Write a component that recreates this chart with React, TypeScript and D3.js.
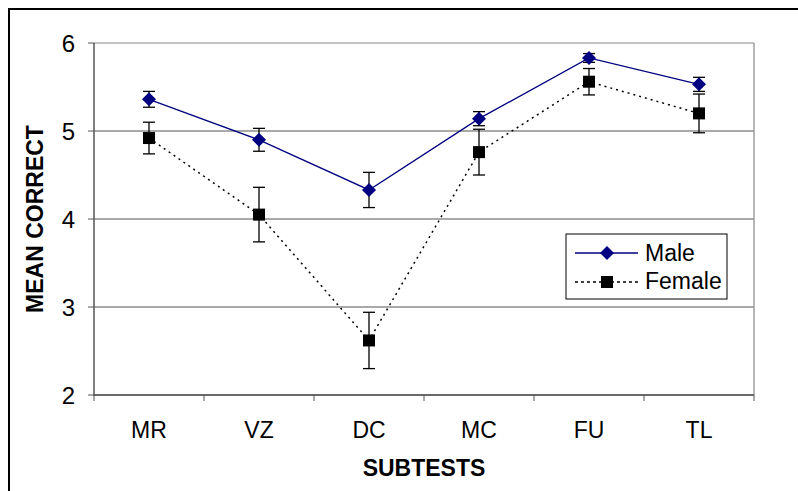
import React from 'react';
import * as d3 from 'd3';

const categories = ['MR', 'VZ', 'DC', 'MC', 'FU', 'TL'];
const maleMeans = [5.36, 4.9, 4.33, 5.14, 5.83, 5.53];
const maleErr = [0.09, 0.13, 0.2, 0.08, 0.05, 0.08];
const femaleMeans = [4.92, 4.05, 2.62, 4.76, 5.56, 5.2];
const femaleErr = [0.18, 0.31, 0.32, 0.26, 0.15, 0.22];
const yTicks = [2, 3, 4, 5, 6];

const width = 798;
const height = 491;
const marginLeft = 94;
const marginRight = 44;
const marginTop = 43;
const marginBottom = 96;
const font = 'Liberation Sans, Arial, sans-serif';

const Marker = ({ kind, x, y }: { kind: string; x: number; y: number }) =>
  kind === 'diamond' ? (
    <path d={`M${x},${y - 7}L${x + 7},${y}L${x},${y + 7}L${x - 7},${y}Z`} fill="#000080" />
  ) : (
    <rect x={x - 6} y={y - 6} width={12} height={12} fill="#000" />
  );

const App = () => {
  const x = d3.scaleBand().domain(categories).range([marginLeft, width - marginRight]);
  const y = d3.scaleLinear().domain([2, 6]).range([height - marginBottom, marginTop]);
  const cx = (c: string) => (x(c) as number) + x.bandwidth() / 2;
  const line = d3.line<number>().x((d, i) => cx(categories[i])).y(d => y(d));

  const series = [
    { name: 'Male', means: maleMeans, err: maleErr, color: '#000080', dash: undefined, kind: 'diamond' },
    { name: 'Female', means: femaleMeans, err: femaleErr, color: '#000', dash: '2,4', kind: 'square' },
  ];

  const left = marginLeft;
  const right = width - marginRight;
  const bottom = height - marginBottom;

  return (
    <svg width={width} height={height} style={{ position: 'absolute', left: 0, top: 0 }}>
      <rect x={0} y={0} width={width} height={height} fill="#fff" />
      <rect x={9} y={9} width={width + 10} height={height + 10} fill="none" stroke="#000" strokeWidth={2} />
      {yTicks.map(t => (
        <g key={t}>
          <line x1={left} x2={right} y1={y(t)} y2={y(t)} stroke={t === 6 ? '#888' : '#555'} strokeWidth={1.2} />
          <line x1={left - 6} x2={left} y1={y(t)} y2={y(t)} stroke="#555" />
          <text x={left - 19} y={y(t)} dy="0.36em" textAnchor="end" fontFamily={font} fontSize={24}>{t}</text>
        </g>
      ))}
      <line x1={right} x2={right} y1={marginTop} y2={bottom} stroke="#888" strokeWidth={1.2} />
      <line x1={left} x2={left} y1={marginTop} y2={bottom + 1} stroke="#555" strokeWidth={1.5} />
      <line x1={left} x2={right} y1={bottom} y2={bottom} stroke="#555" strokeWidth={1.5} />
      {[...categories.map(c => x(c) as number), right].map((t, i) => (
        <line key={i} x1={t} x2={t} y1={bottom} y2={bottom + 6} stroke="#555" />
      ))}
      {categories.map(c => (
        <text key={c} x={cx(c)} y={bottom + 43} textAnchor="middle" fontFamily={font} fontSize={23}>{c}</text>
      ))}
      <text x={(left + right) / 2} y={bottom + 81} textAnchor="middle" fontFamily={font} fontSize={23} fontWeight="bold">SUBTESTS</text>
      <text transform={`translate(43,${(marginTop + bottom) / 2}) rotate(-90)`} textAnchor="middle" fontFamily={font} fontSize={23} fontWeight="bold">MEAN CORRECT</text>
      {series.map(s => (
        <g key={s.name}>
          <path d={line(s.means) as string} fill="none" stroke={s.color} strokeWidth={s.dash ? 1.5 : 1.3} strokeDasharray={s.dash} />
          {s.means.map((m, i) => {
            const px = cx(categories[i]);
            return (
              <g key={i} stroke="#000" strokeWidth={1.3}>
                <line x1={px} x2={px} y1={y(m + s.err[i])} y2={y(m - s.err[i])} />
                <line x1={px - 6} x2={px + 6} y1={y(m + s.err[i])} y2={y(m + s.err[i])} />
                <line x1={px - 6} x2={px + 6} y1={y(m - s.err[i])} y2={y(m - s.err[i])} />
              </g>
            );
          })}
          {s.means.map((m, i) => (
            <Marker key={i} kind={s.kind} x={cx(categories[i])} y={y(m)} />
          ))}
        </g>
      ))}
      <g>
        <rect x={566} y={234} width={161} height={65} fill="#fff" stroke="#000" strokeWidth={1} />
        {series.map((s, i) => (
          <g key={s.name}>
            <line x1={575} x2={638} y1={253 + i * 29} y2={253 + i * 29} stroke={s.color} strokeWidth={s.dash ? 1.5 : 1.3} strokeDasharray={s.dash ? '3,3' : undefined} />
            <Marker kind={s.kind} x={607} y={253 + i * 29} />
            <text x={645} y={261 + i * 28} fontFamily={font} fontSize={23}>{s.name}</text>
          </g>
        ))}
      </g>
    </svg>
  );
};

export default App;
